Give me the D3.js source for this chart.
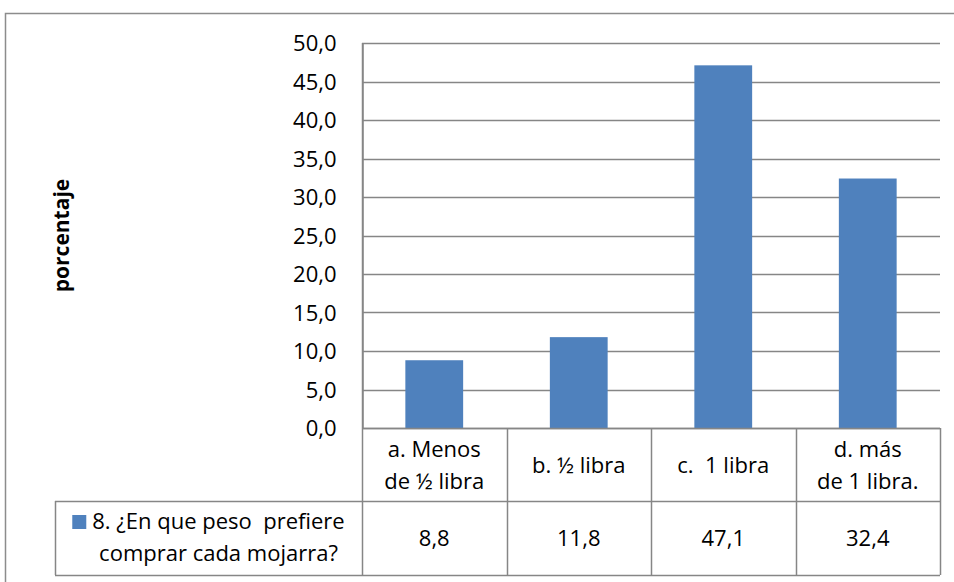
<!DOCTYPE html>
<html>
<head>
<meta charset="utf-8">
<script src="https://cdn.jsdelivr.net/npm/d3@7"></script>
<style>
  html, body { margin: 0; padding: 0; background: #fff; }
  svg { display: block; }
  text { font-family: "Open Sans", Lato, sans-serif; fill: #000; white-space: pre; }
</style>
</head>
<body>
<script>
// Chart data
const categories = [["a. Menos", "de ½ libra"], ["b. ½ libra"], ["c.  1 libra"], ["d. más", "de 1 libra."]];
const values = [8.8, 11.8, 47.1, 32.4];
const valueLabels = ["8,8", "11,8", "47,1", "32,4"];
const yTicks = [0, 5, 10, 15, 20, 25, 30, 35, 40, 45, 50];
const seriesName = ["8. ¿En que peso  prefiere", "comprar cada mojarra?"];
const yTitle = "porcentaje";

const W = 954, H = 582;
const plot = { left: 362, right: 940, top: 43, bottom: 428 };
const tableRow1 = 501, tableBottom = 575, legendLeft = 55;
const gridColor = "#868686", barColor = "#4f81bd";
const fs = "22px";

const svg = d3.select("body").append("svg").attr("width", W).attr("height", H);

// outer chart frame (runs past the right and bottom edges)
svg.append("path")
  .attr("d", `M5.5,${H + 5}V13.5H${W + 5}`)
  .attr("fill", "none").attr("stroke", "#8c8c8c").attr("stroke-width", 1.5);

const x = d3.scaleBand().domain(d3.range(categories.length))
  .range([plot.left, plot.right]).paddingInner(0.6).paddingOuter(0.3);
const y = d3.scaleLinear().domain([0, 50]).range([plot.bottom, plot.top]);

// gridlines
svg.append("g").selectAll("line").data(yTicks).join("line")
  .attr("x1", plot.left).attr("x2", plot.right)
  .attr("y1", d => Math.round(y(d)) + 0.5).attr("y2", d => Math.round(y(d)) + 0.5)
  .attr("stroke", gridColor).attr("stroke-width", 1.5);

// y axis
const yAxis = d3.axisLeft(y).tickValues(yTicks)
  .tickFormat(d => d3.format(".1f")(d).replace(".", ","))
  .tickSize(0).tickPadding(26);
const ga = svg.append("g").attr("transform", `translate(${plot.left + 0.5},0)`).call(yAxis);
ga.attr("font-family", null).attr("font-size", null);
ga.select(".domain").attr("stroke", gridColor).attr("stroke-width", 1.5);
ga.selectAll("text").style("font-size", fs).attr("fill", "#000").attr("dy", "0.36em");

// bars
svg.append("g").selectAll("rect").data(values).join("rect")
  .attr("x", (d, i) => x(i)).attr("width", x.bandwidth())
  .attr("y", d => y(d)).attr("height", d => y(0) - y(d))
  .attr("fill", barColor);

// y axis title
svg.append("text")
  .attr("transform", `translate(69,${(plot.top + plot.bottom) / 2}) rotate(-90)`)
  .attr("text-anchor", "middle").style("font-size", "21px").style("font-weight", "bold")
  .text(yTitle);

// data table
const colEdges = d3.range(categories.length + 1).map(i => plot.left + i * x.step());
const tg = svg.append("g").attr("stroke", gridColor).attr("stroke-width", 1.5).attr("fill", "none");
tg.append("line").attr("x1", plot.left).attr("x2", plot.right).attr("y1", plot.bottom + 0.5).attr("y2", plot.bottom + 0.5);
tg.append("line").attr("x1", legendLeft).attr("x2", plot.right).attr("y1", tableRow1 + 0.5).attr("y2", tableRow1 + 0.5);
tg.append("line").attr("x1", legendLeft).attr("x2", plot.right).attr("y1", tableBottom + 0.5).attr("y2", tableBottom + 0.5);
tg.append("line").attr("x1", legendLeft + 0.5).attr("x2", legendLeft + 0.5).attr("y1", tableRow1).attr("y2", tableBottom);
tg.selectAll(".col").data(colEdges).join("line")
  .attr("x1", d => Math.round(d) + 0.5).attr("x2", d => Math.round(d) + 0.5)
  .attr("y1", (d, i) => i === 0 ? plot.top : plot.bottom).attr("y2", tableBottom);

// category headers
const lineH = 32;
svg.append("g").selectAll("text").data(categories).join("text")
  .attr("text-anchor", "middle").style("font-size", fs)
  .attr("x", (d, i) => x(i) + x.bandwidth() / 2)
  .attr("y", d => (plot.bottom + tableRow1) / 2 + 8 - (d.length - 1) * lineH / 2)
  .selectAll("tspan").data(d => d).join("tspan")
  .attr("x", function () { return d3.select(this.parentNode).attr("x"); })
  .attr("dy", (d, i) => i === 0 ? 0 : lineH)
  .text(d => d);

// value cells
svg.append("g").selectAll("text").data(valueLabels).join("text")
  .attr("text-anchor", "middle").style("font-size", fs)
  .attr("x", (d, i) => x(i) + x.bandwidth() / 2)
  .attr("y", (tableRow1 + tableBottom) / 2 + 8)
  .text(d => d);

// legend key in the table
const legCx = (legendLeft + plot.left) / 2 + 10;
const l1 = svg.append("text").attr("x", legCx).attr("y", 529).attr("text-anchor", "middle")
  .style("font-size", fs).text(seriesName[0]);
svg.append("text").attr("x", legCx).attr("y", 561).attr("text-anchor", "middle")
  .style("font-size", fs).text(seriesName[1]);
const l1x = legCx - l1.node().getComputedTextLength() / 2;
svg.append("rect").attr("x", l1x - 20).attr("y", 515).attr("width", 14).attr("height", 14).attr("fill", barColor);
</script>
</body>
</html>
